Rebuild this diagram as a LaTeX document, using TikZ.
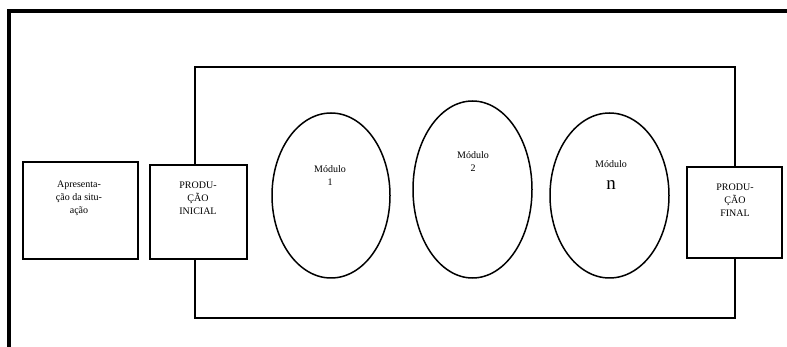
\documentclass[tikz,border=0pt]{standalone}
\usepackage{fontspec}
\setmainfont{Liberation Serif}
\usetikzlibrary{shapes.geometric}
\begin{document}
\begin{tikzpicture}[x=1pt,y=-1pt,
  frame/.style={line width=4pt},
  stage/.style={draw, line width=1.6pt, fill=white, inner sep=0pt},
  modulo/.style={draw, ellipse, line width=1.5pt, fill=white, inner sep=0pt},
  lbl/.style={align=center, inner sep=0pt, font=\fontsize{10}{13}\selectfont},
  big/.style={inner sep=0pt, font=\fontsize{19}{20}\selectfont}]
\useasboundingbox (0,0) rectangle (787,347);
% outer frame (top and left sides)
\coordinate (fb) at (9,347);
\coordinate (fc) at (9,11);
\coordinate (fr) at (787,11);
\draw[frame] (fb) -- (fc) -- (fr);
% sequence rectangle
\node[draw, line width=1.5pt, minimum width=540pt, minimum height=251pt, inner sep=0pt] (seq) at (465,192.5) {};
% stage boxes
\node[stage, minimum width=115pt, minimum height=97pt] (apres) at (80.5,210.5) {};
\node[stage, minimum width=97pt, minimum height=94pt] (inicial) at (198.5,212) {};
\node[stage, minimum width=95pt, minimum height=91pt] (final) at (734.5,212.5) {};
% modules
\node[modulo, minimum width=118pt, minimum height=165pt] (m1) at (331,195.5) {};
\node[modulo, minimum width=119pt, minimum height=177pt] (m2) at (472.5,189.5) {};
\node[modulo, minimum width=119pt, minimum height=165pt] (mn) at (609.5,195.5) {};
% labels
\node[lbl] (tapres) at (79,198) {Apresenta-\\ção da situ-\\ação};
\node[lbl] (tinicial) at (198,198) {PRODU-\\ÇÃO\\INICIAL};
\node[lbl] (tfinal) at (735,200) {PRODU-\\ÇÃO\\FINAL};
\node[lbl] (tm1) at (330,176) {Módulo\\1};
\node[lbl] (tm2) at (473,161.5) {Módulo\\2};
\node[lbl] (tmn) at (611,164) {Módulo};
\node[big] (tn) at (611,185) {n};
\end{tikzpicture}
\end{document}
